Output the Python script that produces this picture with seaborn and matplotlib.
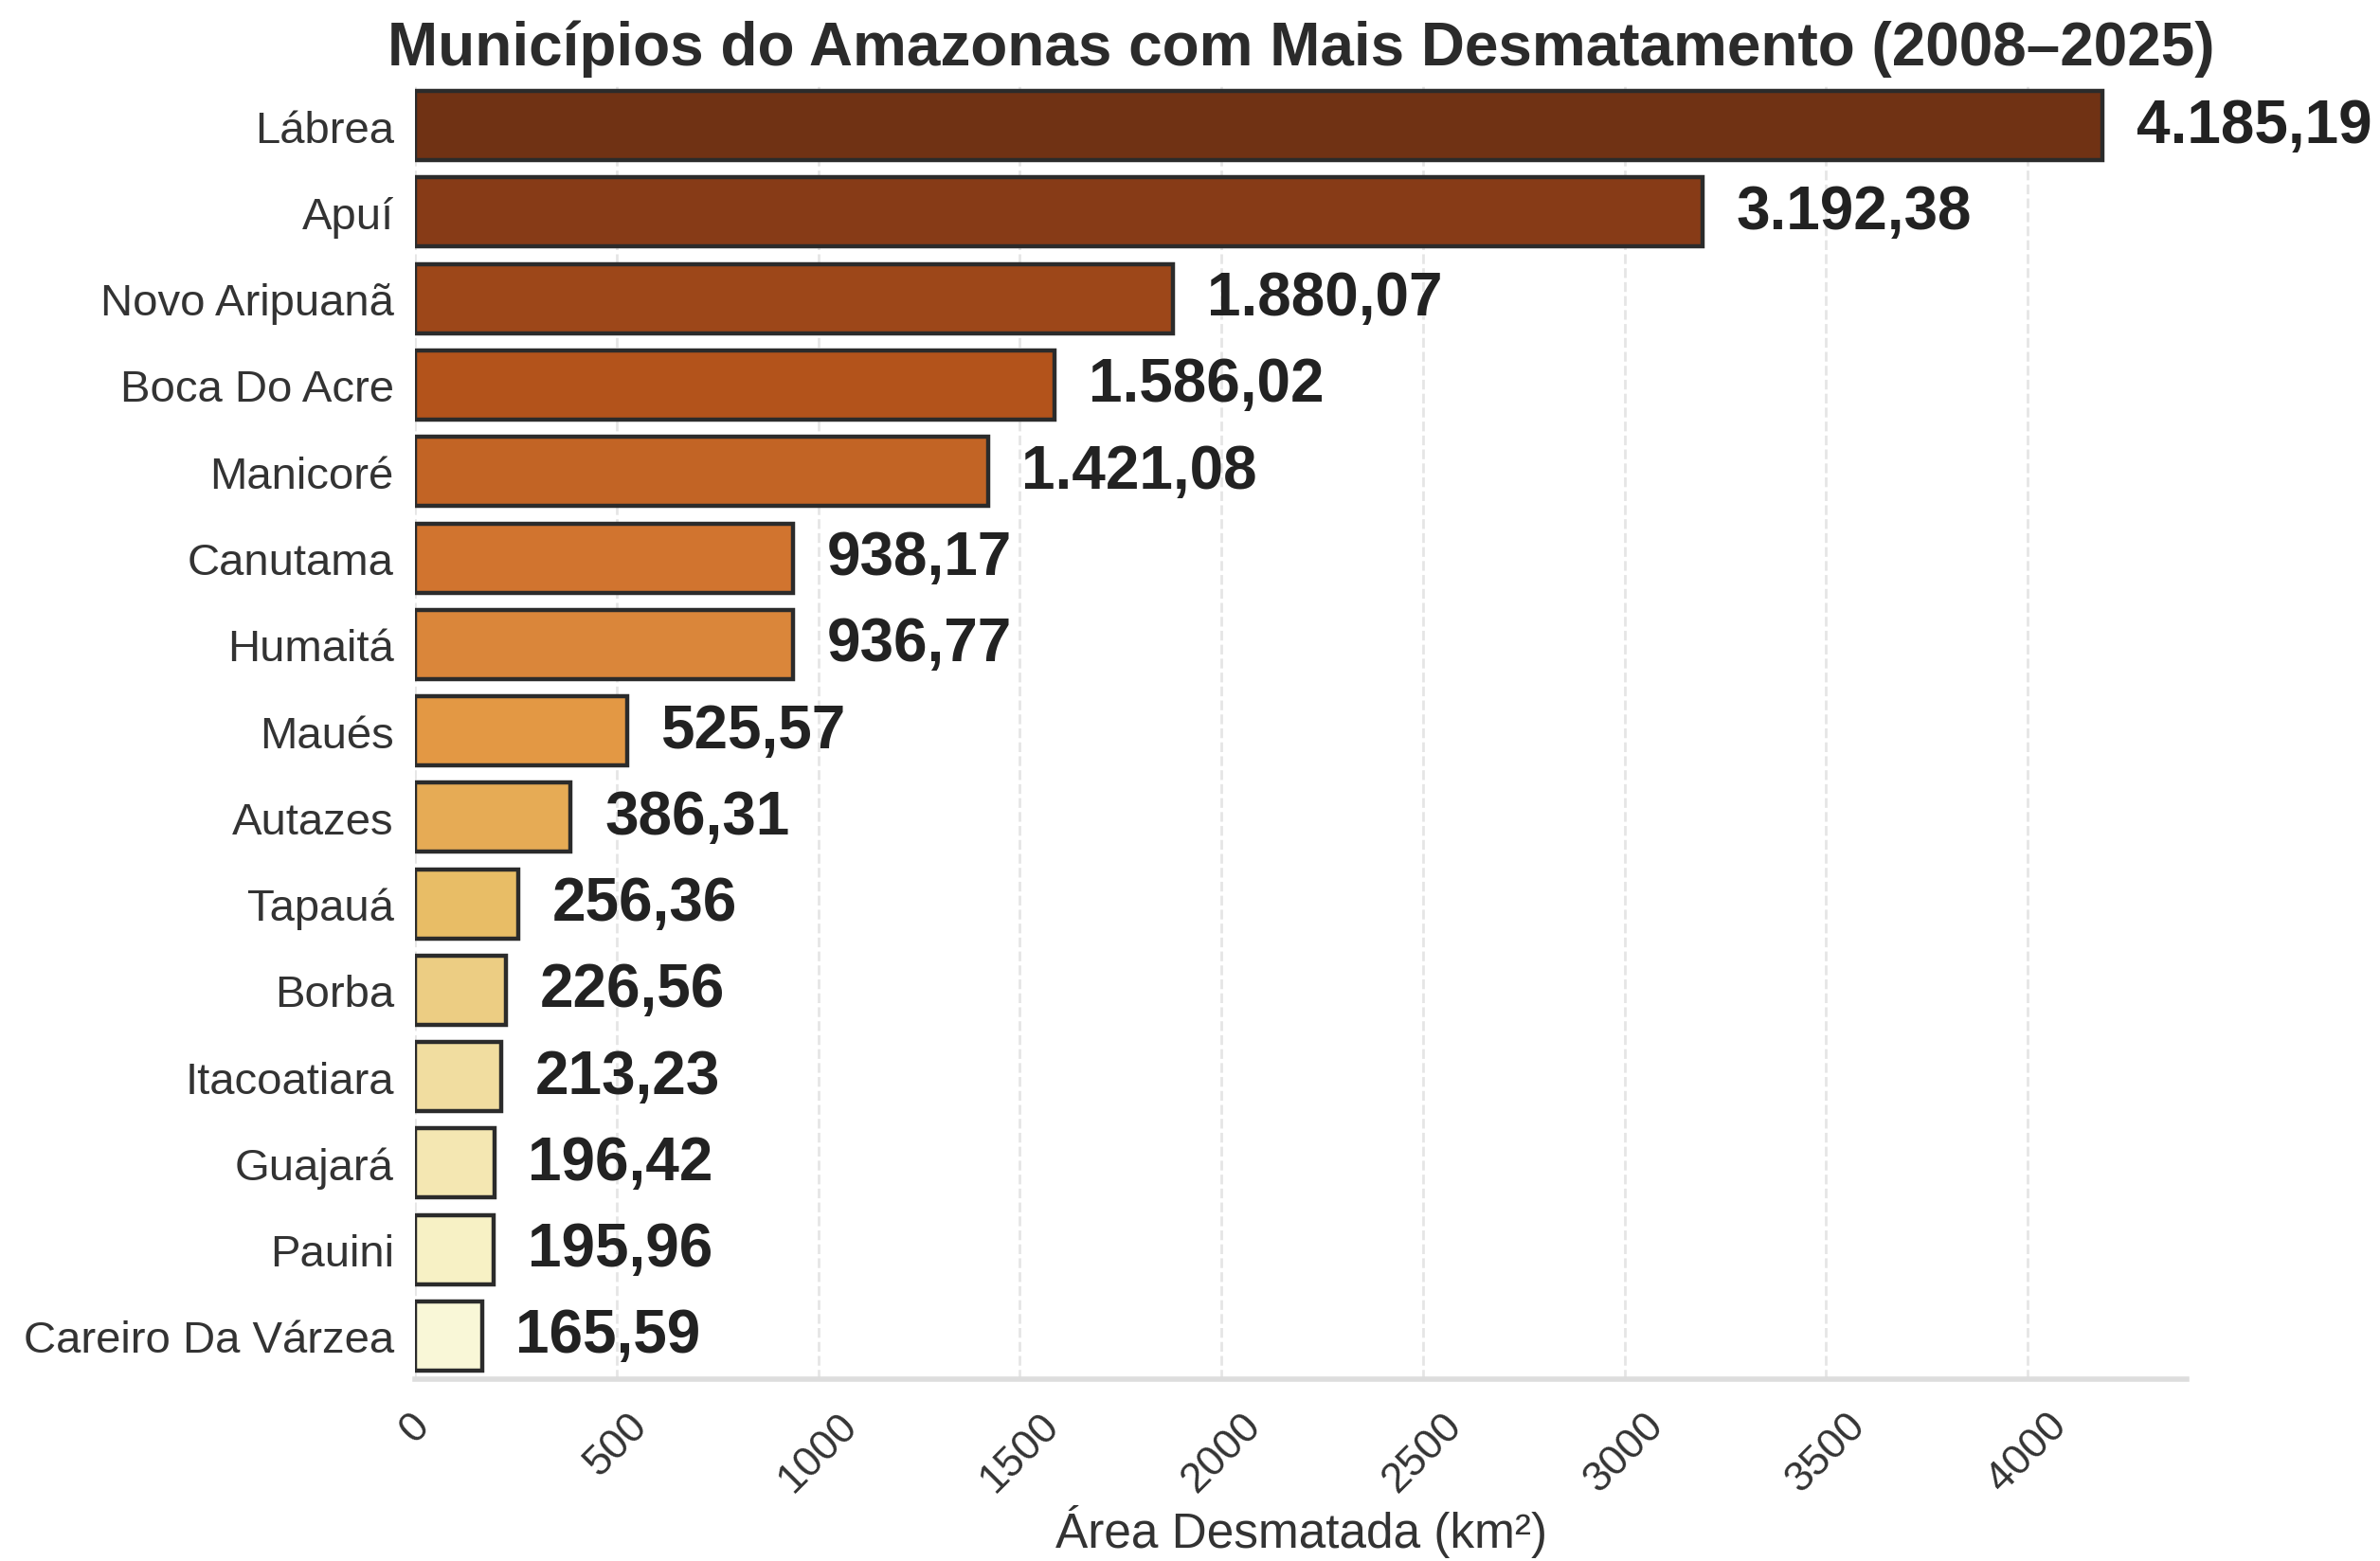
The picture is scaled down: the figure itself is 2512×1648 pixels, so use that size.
import matplotlib
matplotlib.use("Agg")
import matplotlib.pyplot as plt
import seaborn as sns
import pandas as pd

municipios = ["Lábrea", "Apuí", "Novo Aripuanã", "Boca Do Acre", "Manicoré",
              "Canutama", "Humaitá", "Maués", "Autazes", "Tapauá", "Borba",
              "Itacoatiara", "Guajará", "Pauini", "Careiro Da Várzea"]
area_km2 = [4185.19, 3192.38, 1880.07, 1586.02, 1421.08, 938.17, 936.77,
            525.57, 386.31, 256.36, 226.56, 213.23, 196.42, 195.96, 165.59]
x_ticks = [0, 500, 1000, 1500, 2000, 2500, 3000, 3500, 4000]

sns.set_theme(style="whitegrid")
plt.rcParams['font.family'] = ['Liberation Sans', 'DejaVu Sans']
plt.rcParams['grid.linestyle'] = '--'
plt.rcParams['grid.alpha'] = 0.5

df = pd.DataFrame({"Município": municipios, "Área": area_km2})

fig = plt.figure(figsize=(12.56, 8.245), dpi=200)
ax = fig.add_axes([0.1744, 0.1164, 0.7444, 0.8302])

sns.barplot(data=df, y="Município", x="Área", hue="Município",
            palette="YlOrBr_r", legend=False, edgecolor="#2b2b2b",
            linewidth=1.6, ax=ax, width=0.8)

vmax = max(area_km2)
ax.set_xlim(0, vmax * 1.05)

def fmt_br(v):
    s = f"{v:,.2f}"
    return s.replace(",", "X").replace(".", ",").replace("X", ".")

for i, v in enumerate(area_km2):
    ax.text(v + vmax * 0.02, i, fmt_br(v), va="center", ha="left",
            fontsize=23, fontweight="bold", color="#222222")

ax.set_xticks(x_ticks)
ax.set_xticklabels([str(t) for t in x_ticks], rotation=45, ha="center",
                   fontsize=16, color="#333333")
ax.tick_params(axis="y", labelsize=17, colors="#333333", pad=2)
ax.tick_params(axis="x", pad=4)
ax.set_ylabel("")
ax.set_xlabel("Área Desmatada (km²)", fontsize=18.5, color="#333333", labelpad=2)
ax.set_title("Municípios do Amazonas com Mais Desmatamento (2008–2025)",
             fontsize=23, fontweight="bold", color="#2b2b2b", pad=7)
sns.despine(left=True)
ax.spines["bottom"].set_color("#dddddd")
ax.spines["bottom"].set_linewidth(2)

fig.savefig("out.png", dpi=200)
